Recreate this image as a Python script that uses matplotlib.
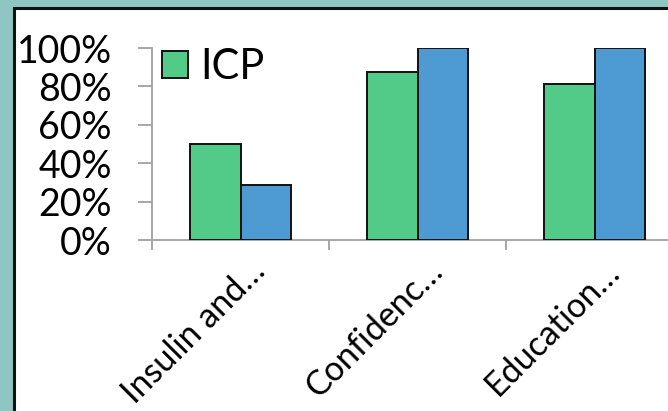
import matplotlib
matplotlib.use("Agg")
import matplotlib.pyplot as plt
import matplotlib.transforms as mtransforms
from matplotlib.patches import Rectangle
from matplotlib.ticker import PercentFormatter

# survey topics and share answering "yes"
categories = ["Insulin and\u2026", "Confidenc\u2026", "Education\u2026"]
icp_values = [0.50, 0.875, 0.8125]
other_values = [0.285, 1.0, 1.0]
legend_label = "ICP"
yticks = [0, 0.2, 0.4, 0.6, 0.8, 1.0]

plt.rcParams["font.family"] = ["Lato", "DejaVu Sans"]

W, H = 668, 411
fig = plt.figure(figsize=(W / 100, H / 100), dpi=100)
fig.patch.set_facecolor("#8FC6C1")

# white panel with dark border, kept under the axes
fig.patches.append(Rectangle((13.5 / W, -0.1), 1.2, (H - 8.5) / H + 0.1,
                             transform=fig.transFigure, facecolor="white",
                             edgecolor="#111111", linewidth=2.2, zorder=-5))

ax = fig.add_axes([152 / W, (H - 240) / H, 531 / W, 192 / H])
ax.set_facecolor("none")

x = list(range(len(categories)))
bw = 0.2825
green = ax.bar([i - bw / 2 for i in x], icp_values, bw, color="#52CB89",
               edgecolor="#111111", linewidth=1.4, label=legend_label, zorder=3)
blue = ax.bar([i + bw / 2 for i in x], other_values, bw, color="#4E9BD3",
              edgecolor="#111111", linewidth=1.4, zorder=3)

ax.set_xlim(-0.5, len(categories) - 0.5)
ax.set_ylim(0, 1)

for s in ["top", "right"]:
    ax.spines[s].set_visible(False)
for s in ["left", "bottom"]:
    ax.spines[s].set_color("#A0A0A0")
    ax.spines[s].set_linewidth(1.3)

ax.set_yticks(yticks)
ax.yaxis.set_major_formatter(PercentFormatter(1.0, decimals=0))
ax.tick_params(axis="y", length=10, width=1.3, color="#A0A0A0",
               pad=19, labelsize=27)

# category labels at centres, tick marks at the boundaries
ax.set_xticks(x, categories)
ax.set_xticks([i - 0.5 for i in x], minor=True)
ax.tick_params(axis="x", which="major", length=0, pad=0, labelsize=24.5)
ax.tick_params(axis="x", which="minor", length=7.5, width=1.3, color="#A0A0A0")
off = mtransforms.ScaledTranslation(27 / 100, -33 / 100, fig.dpi_scale_trans)
for lab in ax.get_xticklabels():
    lab.set_rotation(45)
    lab.set_ha("right")
    lab.set_va("baseline")
    lab.set_rotation_mode("anchor")
    lab.set_transform(lab.get_transform() + off)

ax.legend(handles=[green], loc="upper left", frameon=False, fontsize=30,
          handlelength=0.62, handleheight=0.62, handletextpad=0.3,
          borderpad=0, borderaxespad=0,
          bbox_to_anchor=(162 / W, (H - 48) / H), bbox_transform=fig.transFigure)

fig.savefig("out.png", dpi=100, facecolor=fig.get_facecolor())
